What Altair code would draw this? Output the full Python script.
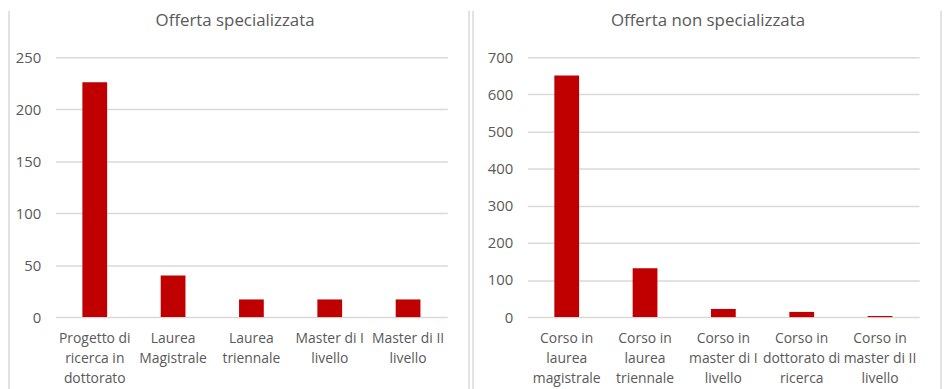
import altair as alt
import pandas as pd

titles = ["Offerta specializzata", "Offerta non specializzata"]

left_categories = [
    "Progetto di\nricerca in\ndottorato",
    "Laurea\nMagistrale",
    "Laurea\ntriennale",
    "Master di I\nlivello",
    "Master di II\nlivello",
]
left_values = [226, 40, 17, 17, 17]
left_ticks = [0, 50, 100, 150, 200, 250]

right_categories = [
    "Corso in\nlaurea\nmagistrale",
    "Corso in\nlaurea\ntriennale",
    "Corso in\nmaster di I\nlivello",
    "Corso in\ndottorato di\nricerca",
    "Corso in\nmaster di II\nlivello",
]
right_values = [651, 132, 22, 14, 3]
right_ticks = [0, 100, 200, 300, 400, 500, 600, 700]

FONT = "Open Sans"
TXT = "#595959"
GRID = "#d9d9d9"
BAR = "#C00000"
W, H = 395, 262


def panel(cats, vals, ticks, title, left_x, right_x, title_x):
    df = pd.DataFrame({"cat": cats, "val": vals})
    bars = alt.Chart(df).mark_bar(color=BAR).encode(
        x=alt.X(
            "cat:N",
            sort=None,
            scale=alt.Scale(paddingInner=0.684, paddingOuter=0.342),
            axis=alt.Axis(
                title=None,
                domain=False,
                ticks=False,
                labelAngle=0,
                labelPadding=15,
                labelBaseline="top",
                labelLineHeight=20,
                labelLimit=300,
                labelFont=FONT,
                labelFontSize=14,
                labelColor=TXT,
                labelExpr="split(datum.value, '\\n')",
            ),
        ),
        y=alt.Y(
            "val:Q",
            scale=alt.Scale(domain=[ticks[0], ticks[-1]], nice=False),
            axis=alt.Axis(
                title=None,
                values=ticks,
                domain=False,
                ticks=False,
                grid=True,
                gridColor=GRID,
                gridWidth=1.5,
                labelPadding=15,
                labelFont=FONT,
                labelFontSize=15,
                labelColor=TXT,
                minExtent=47,
                maxExtent=47,
            ),
        ),
    )
    borders = alt.Chart(pd.DataFrame({"xpos": [left_x, right_x]})).mark_rule(
        color=GRID, strokeWidth=1.5
    ).encode(
        x=alt.X("xpos:Q", scale=None),
        y=alt.value(-47),
        y2=alt.value(H + 100),
    )
    ttl = alt.Chart(pd.DataFrame({"t": [title]})).mark_text(
        font=FONT, fontSize=17, color=TXT, baseline="middle", align="center"
    ).encode(
        text="t:N",
        x=alt.value(title_x),
        y=alt.value(-37),
    )
    return alt.layer(bars, borders, ttl).properties(width=W, height=H)


left = panel(left_categories, left_values, left_ticks, titles[0], -47, 417, 181)
right = panel(right_categories, right_values, right_ticks, titles[1], -55, 417, 182)

chart = (
    alt.hconcat(left, right, spacing=2)
    .resolve_scale(y="independent", x="independent")
    .properties(padding=0)
    .configure_view(stroke=None)
)

chart.save("out.html", embed_options={"renderer": "svg", "actions": False})
